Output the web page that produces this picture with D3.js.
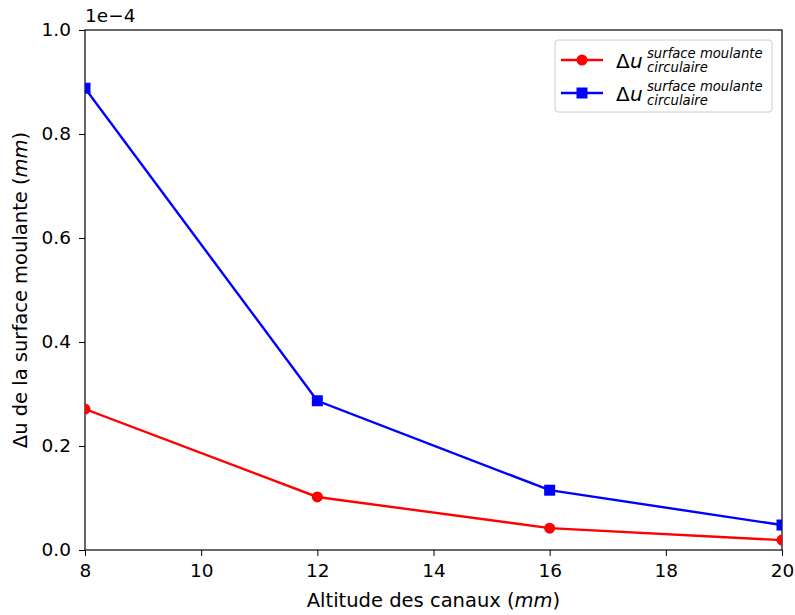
<!DOCTYPE html>
<html>
<head>
<meta charset="utf-8">
<script src="https://cdn.jsdelivr.net/npm/d3@7"></script>
<style>
  body { margin: 0; background: #fff; }
  text { font-family: "DejaVu Sans", sans-serif; }
</style>
</head>
<body>
<div id="chart"></div>
<script>
// altitude des canaux (mm)
const altitudes = [8, 12, 16, 20]
// values in units of 1e-4 mm
const redValues = [0.271, 0.102, 0.042, 0.019]
const blueValues = [0.888, 0.287, 0.115, 0.048]
const xTicks = [8, 10, 12, 14, 16, 18, 20]
const yTicks = [0.0, 0.2, 0.4, 0.6, 0.8, 1.0]

const width = 795
const height = 615
const margin = { left: 85, right: 13, top: 30, bottom: 65 }
const plotW = width - margin.left - margin.right
const plotH = height - margin.top - margin.bottom
const fs = 18.5

const svg = d3.select('#chart').append('svg')
  .attr('width', width)
  .attr('height', height)

const x = d3.scaleLinear().domain([8, 20]).range([0, plotW])
const y = d3.scaleLinear().domain([0, 1]).range([plotH, 0])

const g = svg.append('g')
  .attr('transform', 'translate(' + margin.left + ',' + margin.top + ')')

g.append('clipPath').attr('id', 'clip')
  .append('rect').attr('width', plotW).attr('height', plotH)

// axes
const xAxis = g.append('g')
  .attr('transform', 'translate(0,' + plotH + ')')
  .call(d3.axisBottom(x).tickValues(xTicks).tickSize(6).tickPadding(8).tickFormat(d3.format('d')))
const yAxis = g.append('g')
  .call(d3.axisLeft(y).tickValues(yTicks).tickSize(6).tickPadding(8).tickFormat(d3.format('.1f')))

;[xAxis, yAxis].forEach(a => {
  a.select('.domain').remove()
  a.selectAll('text').attr('font-size', fs).attr('fill', '#000')
  a.selectAll('line').attr('stroke', '#000').attr('stroke-width', 1)
})

// frame
g.append('rect')
  .attr('width', plotW).attr('height', plotH)
  .attr('fill', 'none').attr('stroke', '#000').attr('stroke-width', 1.2)

const plot = g.append('g').attr('clip-path', 'url(#clip)')
const line = d3.line().x((d, i) => x(altitudes[i])).y(d => y(d))

plot.append('path').datum(redValues)
  .attr('d', line).attr('fill', 'none').attr('stroke', '#ff0000').attr('stroke-width', 2.4)
plot.selectAll('.redPt').data(redValues).join('circle')
  .attr('class', 'redPt')
  .attr('cx', (d, i) => x(altitudes[i])).attr('cy', d => y(d))
  .attr('r', 5.5).attr('fill', '#ff0000')

plot.append('path').datum(blueValues)
  .attr('d', line).attr('fill', 'none').attr('stroke', '#0000ff').attr('stroke-width', 2.4)
plot.selectAll('.bluePt').data(blueValues).join('rect')
  .attr('class', 'bluePt')
  .attr('x', (d, i) => x(altitudes[i]) - 5.5).attr('y', d => y(d) - 5.5)
  .attr('width', 11).attr('height', 11).attr('fill', '#0000ff')

// offset text
g.append('text').attr('x', 0).attr('y', -8)
  .attr('font-size', fs).text('1e\u22124')

// axis labels
const xl = svg.append('text')
  .attr('x', margin.left + plotW / 2).attr('y', 607)
  .attr('text-anchor', 'middle').attr('font-size', 19.5)
xl.append('tspan').text('Altitude des canaux (')
xl.append('tspan').attr('font-style', 'italic').text('mm')
xl.append('tspan').text(')')

const yl = svg.append('text')
  .attr('transform', 'translate(27,' + (margin.top + plotH / 2) + ') rotate(-90)')
  .attr('text-anchor', 'middle').attr('font-size', 19.5)
yl.append('tspan').text('\u0394u de la surface moulante (')
yl.append('tspan').attr('font-style', 'italic').text('mm')
yl.append('tspan').text(')')

// legend
const legend = svg.append('g').attr('transform', 'translate(555,40)')
legend.append('rect')
  .attr('width', 217).attr('height', 72).attr('rx', 3)
  .attr('fill', '#fff').attr('fill-opacity', 0.8)
  .attr('stroke', '#ccc').attr('stroke-width', 1)

const entries = [
  { color: '#ff0000', shape: 'circle' },
  { color: '#0000ff', shape: 'square' }
]
entries.forEach((e, i) => {
  const cy = 20 + i * 33
  const row = legend.append('g').attr('transform', 'translate(0,' + cy + ')')
  row.append('line').attr('x1', 6).attr('x2', 48)
    .attr('stroke', e.color).attr('stroke-width', 2.4)
  if (e.shape === 'circle') {
    row.append('circle').attr('cx', 27).attr('r', 5.5).attr('fill', e.color)
  } else {
    row.append('rect').attr('x', 21.5).attr('y', -5.5).attr('width', 11).attr('height', 11).attr('fill', e.color)
  }
  row.append('text').attr('x', 61).attr('y', 8).attr('font-size', 20).text('\u0394')
  row.append('text').attr('x', 75).attr('y', 8).attr('font-size', 20).attr('font-style', 'italic').text('u')
  row.append('text').attr('x', 92).attr('y', -2).attr('font-size', 13.2).attr('font-style', 'italic').text('surface moulante')
  row.append('text').attr('x', 92).attr('y', 12).attr('font-size', 13.2).attr('font-style', 'italic').text('circulaire')
})
</script>
</body>
</html>
